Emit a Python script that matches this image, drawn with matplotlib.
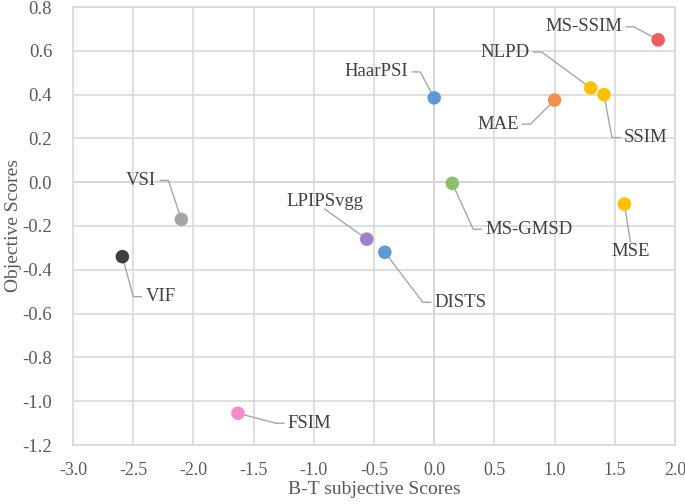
import numpy as np
import matplotlib.pyplot as plt

# metrics and their scores
metrics = ["MS-SSIM", "NLPD", "SSIM", "MAE", "HaarPSI", "MS-GMSD",
           "MSE", "LPIPSvgg", "DISTS", "VSI", "VIF", "FSIM"]
bt_scores = [1.86, 1.30, 1.41, 1.00, 0.00, 0.15, 1.58, -0.56, -0.41, -2.10, -2.59, -1.63]
obj_scores = [0.65, 0.43, 0.40, 0.375, 0.385, -0.005, -0.10, -0.26, -0.32, -0.17, -0.34, -1.055]
colors = ["#F25C5C", "#FFC000", "#FFC000", "#F0914F", "#5B9BD5", "#8CC168",
          "#FFC000", "#9C82C6", "#5B9BD5", "#A5A5A5", "#3F3F3F", "#F78AC8"]
x_ticks = [-3.0, -2.5, -2.0, -1.5, -1.0, -0.5, 0.0, 0.5, 1.0, 1.5, 2.0]
y_ticks = [-1.2, -1.0, -0.8, -0.6, -0.4, -0.2, 0.0, 0.2, 0.4, 0.6, 0.8]

# label placement: text anchor offset in pixels (dx, dy up), horizontal alignment
label_pos = {
    "MS-SSIM": (-36, 13, "right"),
    "NLPD": (-61, 36, "right"),
    "SSIM": (20, -43, "left"),
    "MAE": (-36, -24, "right"),
    "HaarPSI": (-26, 26, "right"),
    "MS-GMSD": (33, -46, "left"),
    "MSE": (6, -46, "center"),
    "LPIPSvgg": (-42, 38, "center"),
    "DISTS": (50, -50, "left"),
    "VSI": (-25, 39, "right"),
    "VIF": (23, -40, "left"),
    "FSIM": (50, -10, "left"),
}

plt.rcParams["font.family"] = ["Liberation Serif", "DejaVu Serif"]

fig = plt.figure(figsize=(6.85, 5.04), dpi=100)
ax = fig.add_axes([73 / 685, 1 - 445 / 504, 602 / 685, 438 / 504])

ax.set_xlim(-3.0, 2.0)
ax.set_ylim(-1.2, 0.8)
ax.set_xticks(x_ticks)
ax.set_yticks(y_ticks)
ax.set_xticklabels([f"{v:.1f}" for v in x_ticks])
ax.set_yticklabels([f"{v:.1f}" for v in y_ticks])
ax.grid(True, color="#D9D9D9", linewidth=1.2, zorder=0)
ax.axhline(0, color="#BFBFBF", linewidth=1.2, zorder=1)
ax.axvline(0, color="#BFBFBF", linewidth=1.2, zorder=1)
for s in ax.spines.values():
    s.set_color("#D9D9D9")
    s.set_linewidth(1.2)
ax.tick_params(length=0, labelsize=13.5, labelcolor="#595959")
ax.tick_params(axis="x", pad=12, labelsize=13)
ax.tick_params(axis="y", pad=15)
ax.set_xlabel("B-T subjective Scores", fontsize=14, color="#595959", labelpad=2)
ax.set_ylabel("Objective Scores", fontsize=14, color="#595959", labelpad=0)

ax.scatter(bt_scores, obj_scores, s=95, c=colors, zorder=4, linewidths=0)

to_disp = ax.transData.transform
to_data = ax.transData.inverted().transform
for name, x, y in zip(metrics, bt_scores, obj_scores):
    dx, dy, ha = label_pos[name]
    px, py = to_disp((x, y))
    tx, ty = px + dx, py + dy
    if ha == "center":
        # straight leader from text edge to point
        ey = ty - 8 if dy > 0 else ty + 8
        pts = [(px, py), (tx, ey)]
        va = "bottom" if dy > 0 else "top"
        text_xy = (tx, ty - 7 if dy > 0 else ty + 7)
        if name == "LPIPSvgg":
            pts = [(px, py), (tx, ty - 8)]
            text_xy = (tx, ty)
            va = "center"
    else:
        side = -1 if ha == "right" else 1
        ex = tx - side * 4
        stub = ex - side * 8
        pts = [(px, py), (stub, ty), (ex, ty)]
        text_xy = (tx, ty)
        va = "center"
    line = np.array([to_data(p) for p in pts])
    ax.plot(line[:, 0], line[:, 1], color="#A6A6A6", linewidth=1.0, zorder=3)
    ax.text(*to_data(text_xy), name, ha=ha, va=va, fontsize=13.5, color="#404040", zorder=5)

fig.savefig("out.png", dpi=100)
